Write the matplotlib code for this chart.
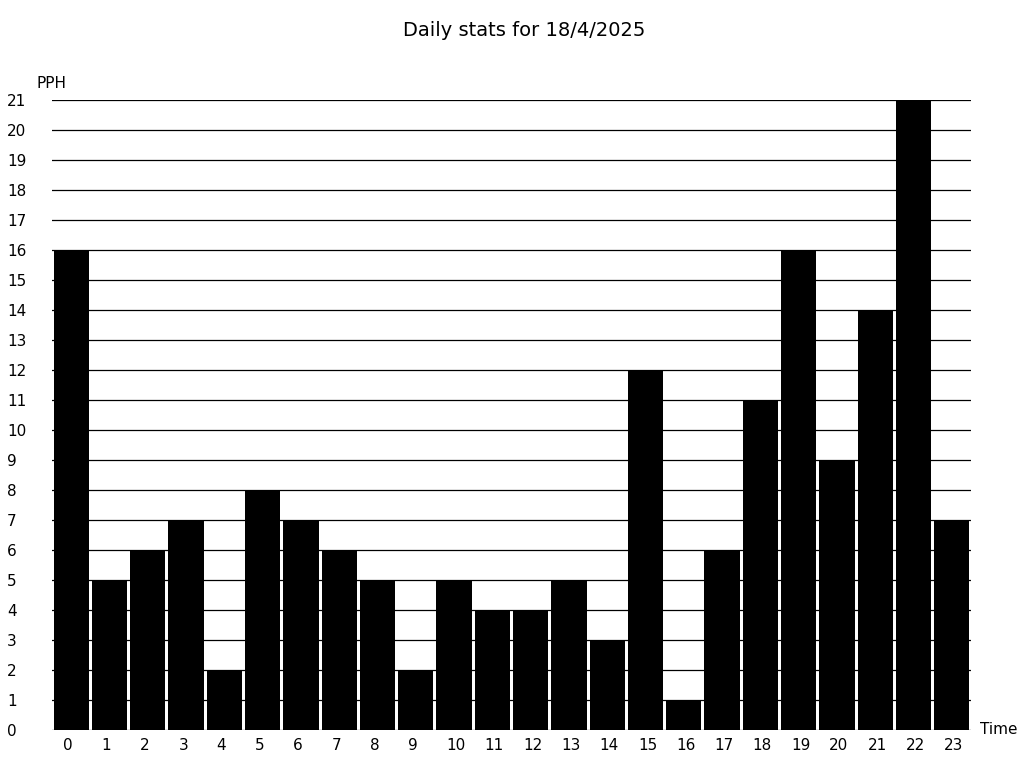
import matplotlib
matplotlib.use('Agg')
import matplotlib.pyplot as plt

# hourly values
hours = list(range(24))
pph = [16, 5, 6, 7, 2, 8, 7, 6, 5, 2, 5, 4, 4, 5, 3, 12, 1, 6, 11, 16, 9, 14, 21, 7]
yticks = list(range(22))

fig = plt.figure(figsize=(10.24, 7.68), dpi=100)
ax = fig.add_axes([52/1024, 38/768, 919/1024, 630/768])

ax.bar(hours, pph, width=0.92, color='black', zorder=2)
ax.set_xlim(-0.5, 23.5)
ax.set_ylim(0, 21)

ax.set_yticks(yticks)
ax.yaxis.grid(True, color='black', linewidth=0.9, zorder=1)
ax.set_axisbelow(True)
for s in ax.spines.values():
    s.set_visible(False)

# x labels sit a little left of bar centre, left aligned
ax.set_xticks([h - 0.2 for h in hours])
ax.set_xticklabels([str(h) for h in hours], ha='left')
ax.tick_params(axis='x', length=0, pad=6, labelsize=11)
ax.tick_params(axis='y', length=0, pad=32.4, labelsize=11)
plt.setp(ax.get_yticklabels(), ha='left')

fig.text(524/1024, 1 - 30/768, 'Daily stats for 18/4/2025', ha='center', va='center', fontsize=14)
fig.text(37/1024, 1 - 84/768, 'PPH', ha='left', va='center', fontsize=11)
fig.text(980/1024, 1 - 730/768, 'Time', ha='left', va='center', fontsize=11)

fig.savefig('out.png', dpi=100)
